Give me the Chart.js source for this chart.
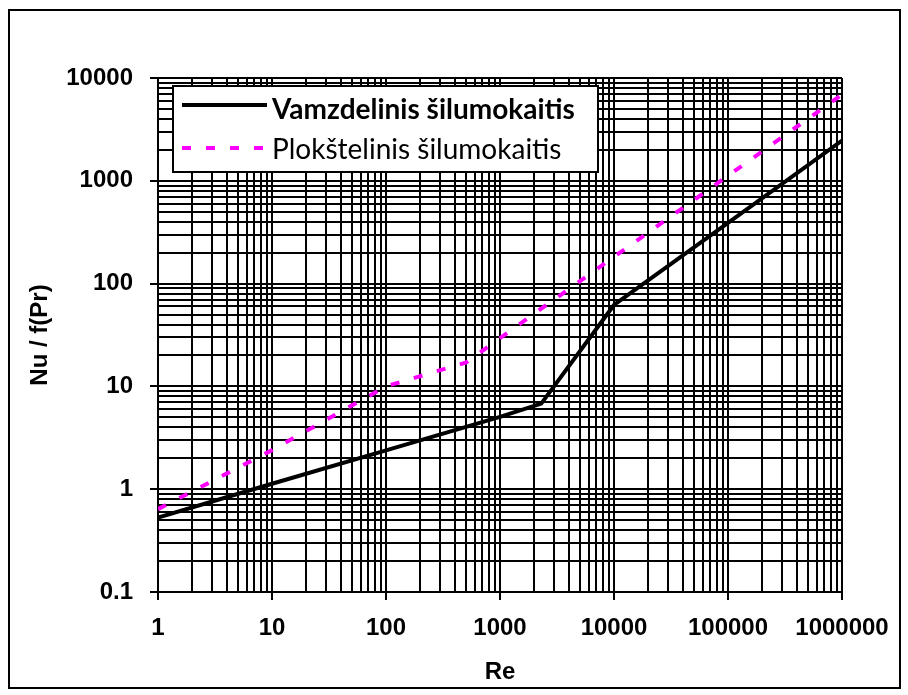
<!DOCTYPE html>
<html>
<head>
<meta charset="utf-8">
<script src="https://cdn.jsdelivr.net/npm/chart.js@4.4.1/dist/chart.umd.min.js"></script>
<style>
  html, body { margin: 0; padding: 0; background: #fff; }
  canvas { display: block; }
</style>
</head>
<body>
<canvas id="c" width="908" height="695"></canvas>
<script>
// ---- data ----
const tubeLabel = 'Vamzdelinis šilumokaitis';
const tubeRe = [1, 10, 100, 1000, 2300, 10000, 100000, 1000000];
const tubeNu = [0.53, 1.13, 2.39, 5.05, 6.8, 62, 390, 2460];

const plateLabel = 'Plokštelinis šilumokaitis';
const plateRe = [1, 10, 100, 300, 500, 1000, 10000, 100000, 1000000];
const plateNu = [0.64, 2.4, 10, 14.4, 17, 29.5, 182, 1120, 6900];

const xDecades = [1, 10, 100, 1000, 10000, 100000, 1000000];
const xTickLabels = ['1', '10', '100', '1000', '10000', '100000', '1000000'];
const yDecades = [0.1, 1, 10, 100, 1000, 10000];
const yTickLabels = ['0.1', '1', '10', '100', '1000', '10000'];

const xTitle = 'Re';
const yTitle = 'Nu / f(Pr)';

// ---- helpers ----
function decadeTicks(decades) {
  const ticks = [];
  for (let i = 0; i < decades.length; i++) {
    ticks.push({ value: decades[i], major: true });
    if (i < decades.length - 1) {
      for (let m = 2; m <= 9; m++) {
        ticks.push({ value: Number((m * decades[i]).toPrecision(6)), major: false });
      }
    }
  }
  return ticks;
}
function toPoints(xs, ys) { return xs.map((x, i) => ({ x: x, y: ys[i] })); }

const tickFont = { family: "'Liberation Sans', Arial, sans-serif", size: 24, weight: 'bold' };

const pageFrame = {
  id: 'pageFrame',
  beforeDraw(chart) {
    const ctx = chart.ctx;
    ctx.save();
    ctx.fillStyle = '#fff';
    ctx.fillRect(0, 0, chart.width, chart.height);
    ctx.strokeStyle = '#000';
    ctx.lineWidth = 2;
    ctx.strokeRect(9, 10, 891, 678);
    ctx.restore();
  }
};

const boxLegend = {
  id: 'boxLegend',
  afterDatasetsDraw(chart) {
    const ctx = chart.ctx;
    const a = chart.chartArea;
    const x0 = a.left + 15, y0 = a.top + 8, w = 425, h = 86;
    const lineY = [19, 62];
    const textDy = [5, 2];
    ctx.save();
    ctx.fillStyle = '#fff';
    ctx.fillRect(x0, y0, w, h);
    ctx.strokeStyle = '#000';
    ctx.lineWidth = 2;
    ctx.strokeRect(x0, y0, w, h);
    chart.data.datasets.forEach((ds, i) => {
      const ly = y0 + lineY[i];
      ctx.beginPath();
      ctx.strokeStyle = ds.borderColor;
      ctx.lineWidth = ds.borderWidth;
      ctx.setLineDash(ds.borderDash || []);
      ctx.moveTo(x0 + 9, ly);
      ctx.lineTo(x0 + 94, ly);
      ctx.stroke();
      ctx.setLineDash([]);
      ctx.font = (i === 0 ? 'bold 28px ' : '28px ') + "Lato, 'Open Sans', sans-serif";
      ctx.fillStyle = '#000';
      ctx.textBaseline = 'middle';
      ctx.textAlign = 'left';
      ctx.fillText(ds.label, x0 + 99, ly + textDy[i]);
    });
    ctx.restore();
  }
};

new Chart(document.getElementById('c'), {
  type: 'line',
  data: {
    datasets: [
      {
        label: tubeLabel,
        data: toPoints(tubeRe, tubeNu),
        borderColor: '#000000',
        borderWidth: 4,
        pointRadius: 0,
        fill: false,
        tension: 0
      },
      {
        label: plateLabel,
        data: toPoints(plateRe, plateNu),
        borderColor: '#ff00ff',
        borderWidth: 4,
        borderDash: [9, 15],
        pointRadius: 0,
        fill: false,
        tension: 0
      }
    ]
  },
  options: {
    responsive: false,
    animation: false,
    layout: { padding: { left: 0, top: 78, right: 66, bottom: 0 } },
    plugins: { legend: { display: false }, tooltip: { enabled: false } },
    scales: {
      x: {
        type: 'logarithmic',
        min: 1,
        max: 1000000,
        afterBuildTicks(scale) { scale.ticks = decadeTicks(xDecades); },
        afterFit(scale) { scale.height = 103; },
        ticks: {
          autoSkip: false,
          maxRotation: 0,
          minRotation: 0,
          padding: 14,
          color: '#000',
          font: tickFont,
          callback(v) { const i = xDecades.indexOf(v); return i >= 0 ? xTickLabels[i] : ''; }
        },
        grid: {
          color: '#000',
          lineWidth: 2,
          tickLength: 8,
          tickWidth: 2,
          tickColor: (c) => (c.tick && c.tick.major ? '#000' : 'rgba(0,0,0,0)')
        },
        border: { display: true, color: '#000', width: 2 },
        title: {
          display: true,
          text: xTitle,
          color: '#000',
          font: tickFont,
          padding: { top: 0, bottom: 8 }
        }
      },
      y: {
        type: 'logarithmic',
        min: 0.1,
        max: 10000,
        afterBuildTicks(scale) { scale.ticks = decadeTicks(yDecades); },
        afterFit(scale) { scale.width = 158; },
        ticks: {
          autoSkip: false,
          padding: 17,
          color: '#000',
          font: tickFont,
          callback(v) { const i = yDecades.indexOf(v); return i >= 0 ? yTickLabels[i] : ''; }
        },
        grid: {
          color: '#000',
          lineWidth: 2,
          tickLength: 8,
          tickWidth: 2,
          tickColor: (c) => (c.tick && c.tick.major ? '#000' : 'rgba(0,0,0,0)')
        },
        border: { display: true, color: '#000', width: 2 },
        title: {
          display: true,
          text: yTitle,
          color: '#000',
          font: tickFont,
          padding: { top: 26, bottom: 0 }
        }
      }
    }
  },
  plugins: [pageFrame, boxLegend]
});
</script>
</body>
</html>
